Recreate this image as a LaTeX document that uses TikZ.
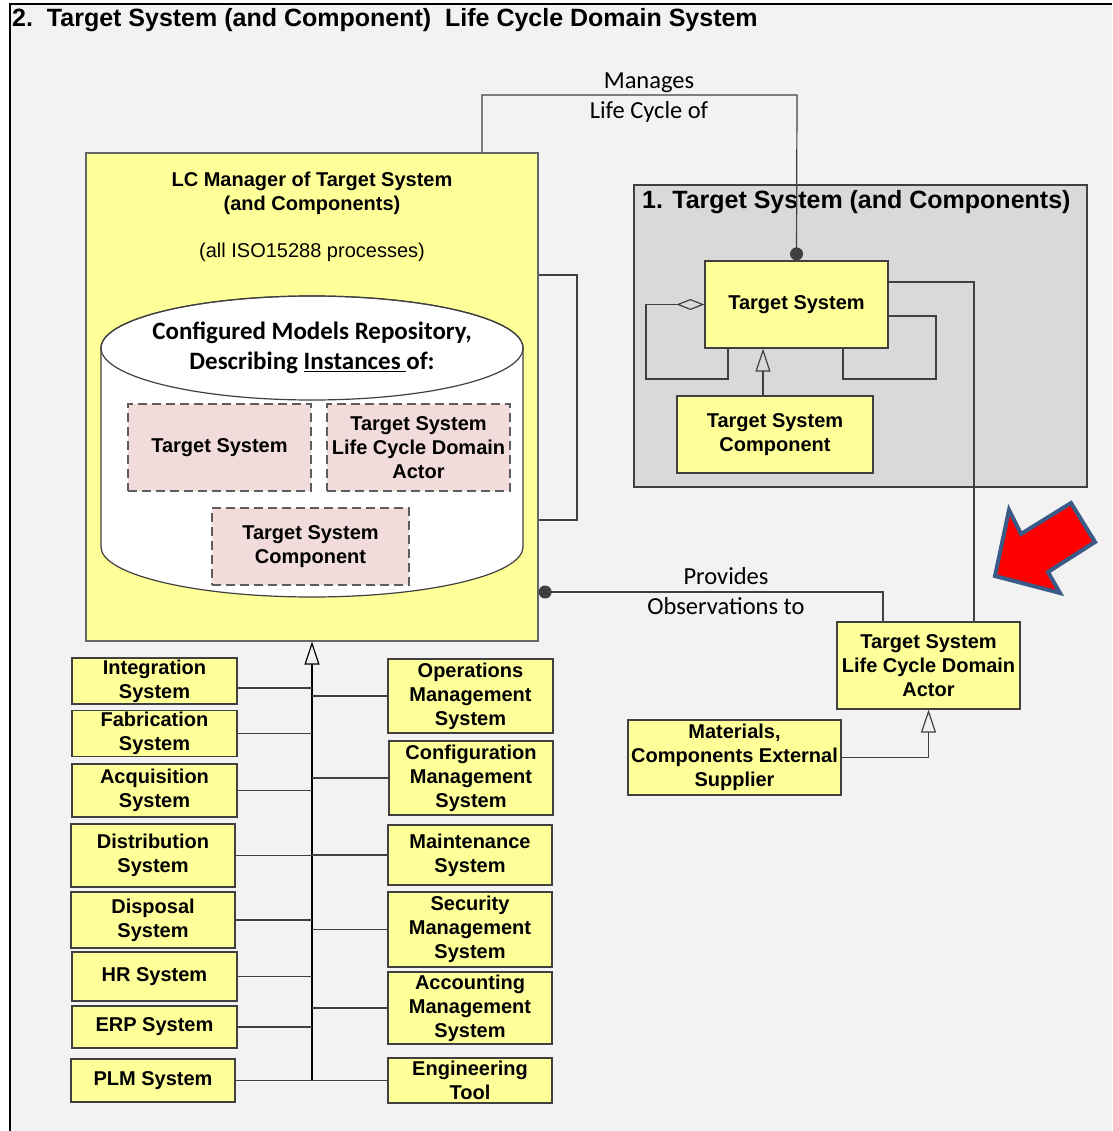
\documentclass[tikz,border=0pt]{standalone}
\usepackage{fontspec}
\setmainfont{Liberation Sans}
\newfontfamily\calfont{Carlito}
\usetikzlibrary{arrows.meta}
\definecolor{bgcol}{HTML}{F2F2F2}
\definecolor{boxyellow}{HTML}{FFFF99}
\definecolor{instpink}{HTML}{F2DCDB}
\definecolor{domaingray}{HTML}{D9D9D9}
\definecolor{edgecol}{HTML}{404040}
\definecolor{arrowred}{HTML}{FF0000}
\definecolor{arrowblue}{HTML}{3A5B88}
\begin{document}
\begin{tikzpicture}[x=1pt,y=-1pt,
  ybox/.style={draw=edgecol,line width=1.2pt,fill=boxyellow,inner sep=0pt,align=center,
    font=\bfseries\fontsize{20}{24}\selectfont},
  instbox/.style={draw=edgecol!85,line width=1.2pt,dash pattern=on 9pt off 5pt,fill=instpink,
    inner sep=0pt,align=center,font=\bfseries\fontsize{20}{24}\selectfont},
  conn/.style={draw=edgecol,line width=1.2pt},
  gen/.style={conn,-{Triangle[open,length=23pt,width=15pt]}},
  dotstart/.style={conn,{Circle[length=13pt]}-},
  lbl/.style={inner sep=0pt,font=\calfont\fontsize{24.5}{30}\selectfont,align=center},
  heading/.style={inner sep=0pt,anchor=west,font=\bfseries\fontsize{25}{30}\selectfont}
]
\useasboundingbox (0,0) rectangle (1112,1131);
% frame and background
\fill[bgcol] (10,4) rectangle (1112,1131);
\draw[line width=1.3pt] (10,1131) -- (10,4) -- (1112,4);
\node[heading] (title) at (12,20) {2.\ \ Target System (and Component)\ \ Life Cycle Domain System};

% life cycle manager
\node[draw=edgecol!80,line width=1.2pt,fill=boxyellow,minimum width=452,minimum height=488,inner sep=0pt] (lc) at (312,397) {};
\node[inner sep=0pt,align=center,font=\bfseries\fontsize{20}{24}\selectfont] (lctitle) at (312,193) {LC Manager of Target System\\(and Components)};
\node[inner sep=0pt,font=\fontsize{20}{24}\selectfont] (lcproc) at (312,252) {(all ISO15288 processes)};

% repository cylinder
\path[draw=edgecol,line width=1.2pt,fill=white] (101,348) -- (101,547)
  arc[start angle=180,end angle=360,x radius=211pt,y radius=50pt] -- (523,348)
  arc[start angle=0,end angle=180,x radius=211pt,y radius=52pt] -- cycle;
\draw[edgecol,line width=1.2pt] (312,348) ellipse[x radius=211pt,y radius=52pt];
\node[inner sep=0pt,align=center,font=\calfont\bfseries\fontsize{25}{30}\selectfont] (repo) at (312,348)
  {Configured Models Repository,\\Describing \underline{Instances\ }of:};
\node[instbox,minimum width=183,minimum height=87] (ints) at (219.5,447.5) {Target System};
\node[instbox,minimum width=183,minimum height=87] (inta) at (418.5,447.5) {Target System\\Life Cycle Domain\\Actor};
\node[instbox,minimum width=197,minimum height=77] (intc) at (310.5,546.5) {Target System\\Component};

% self association of the manager
\draw[conn] (lc.east |- 0,275) -| (577,520) -- (lc.east |- 0,520);

% target system domain
\node[draw=edgecol,line width=1.2pt,fill=domaingray,minimum width=453,minimum height=302,inner sep=0pt] (dom) at (860.5,336) {};
\node[heading] (domtitle) at (642,202) {1. Target System (and Components)};
\node[ybox,minimum width=183,minimum height=87] (ts) at (796.5,304.5) {Target System};
\node[ybox,minimum width=196,minimum height=77] (tsc) at (775,434.5) {Target System\\Component};
\draw[gen] (tsc.north -| 763,0) -- (ts.south -| 763,0);
\draw[conn,{Diamond[open,length=28pt,width=11pt]}-] (ts.west) -| (646,379) -| (ts.south -| 728,0);
\draw[conn] (ts.east |- 0,316) -| (936,379) -| (ts.south -| 843,0);

% actors
\node[ybox,minimum width=183,minimum height=87] (actor) at (928.5,665.5) {Target System\\Life Cycle Domain\\Actor};
\node[ybox,minimum width=213,minimum height=75] (mat) at (734.5,757.5) {Materials,\\Components External\\Supplier};
\draw[gen] (mat.east) -| (actor.south);
\draw[conn] (ts.east |- 0,282) -| (actor.north -| 974,0);

% associations with labels
\draw[dotstart] (ts.north) -- (797,95) -| (lc.north -| 482,0);
\node[lbl] (mlbl1) at (649,83) {Manages};
\node[lbl] (mlbl2) at (649,112) {Life Cycle of};
\draw[dotstart] (lc.east |- 0,592) -| (actor.north -| 883,0);
\node[lbl] (plbl1) at (726,576) {Provides};
\node[lbl] (plbl2) at (726,606) {Observations to};

% highlight arrow
\filldraw[fill=arrowred,draw=arrowblue,line width=4pt,line join=miter] (995,576) -- (1009,510) -- (1021,534)
  -- (1071,503) -- (1095,542) -- (1048,572) -- (1060,593) -- cycle;

% specialised systems
\coordinate (spine) at (312,1080);
\draw[line width=2pt,-{Triangle[open,length=23pt,width=15pt,line width=1.2pt]}] (spine) -- (lc.south);

\node[ybox,minimum width=165,minimum height=46] (intg) at (154.5,681) {Integration\\System};
\node[ybox,minimum width=165,minimum height=46] (fab) at (154.5,733.5) {Fabrication\\System};
\node[ybox,minimum width=165,minimum height=53] (acq) at (154.5,790.5) {Acquisition\\System};
\node[ybox,minimum width=164,minimum height=63] (dist) at (153,855.5) {Distribution\\System};
\node[ybox,minimum width=164,minimum height=56] (disp) at (153,920) {Disposal\\System};
\node[ybox,minimum width=165,minimum height=49] (hr) at (154.5,976.5) {HR System};
\node[ybox,minimum width=165,minimum height=42] (erp) at (154.5,1027) {ERP System};
\node[ybox,minimum width=164,minimum height=43] (plm) at (153,1080.5) {PLM System};

\node[ybox,minimum width=165,minimum height=74] (ops) at (470.5,696) {Operations\\Management\\System};
\node[ybox,minimum width=164,minimum height=74] (conf) at (471,778) {Configuration\\Management\\System};
\node[ybox,minimum width=164,minimum height=60] (maint) at (470,855) {Maintenance\\System};
\node[ybox,minimum width=164,minimum height=75] (sec) at (470,929.5) {Security\\Management\\System};
\node[ybox,minimum width=164,minimum height=72] (acct) at (470,1008) {Accounting\\Management\\System};
\node[ybox,minimum width=164,minimum height=45] (eng) at (470,1080.5) {Engineering\\Tool};

\draw[conn] ([yshift=-7pt]intg.east) -- ([yshift=-7pt]intg.east -| spine);
\foreach \b in {fab,acq,dist,disp,hr,erp,plm}
  \draw[conn] (\b.east) -- (\b.east -| spine);
\foreach \b in {ops,conf,maint,sec,acct,eng}
  \draw[conn] (\b.west) -- (\b.west -| spine);
\end{tikzpicture}
\end{document}
